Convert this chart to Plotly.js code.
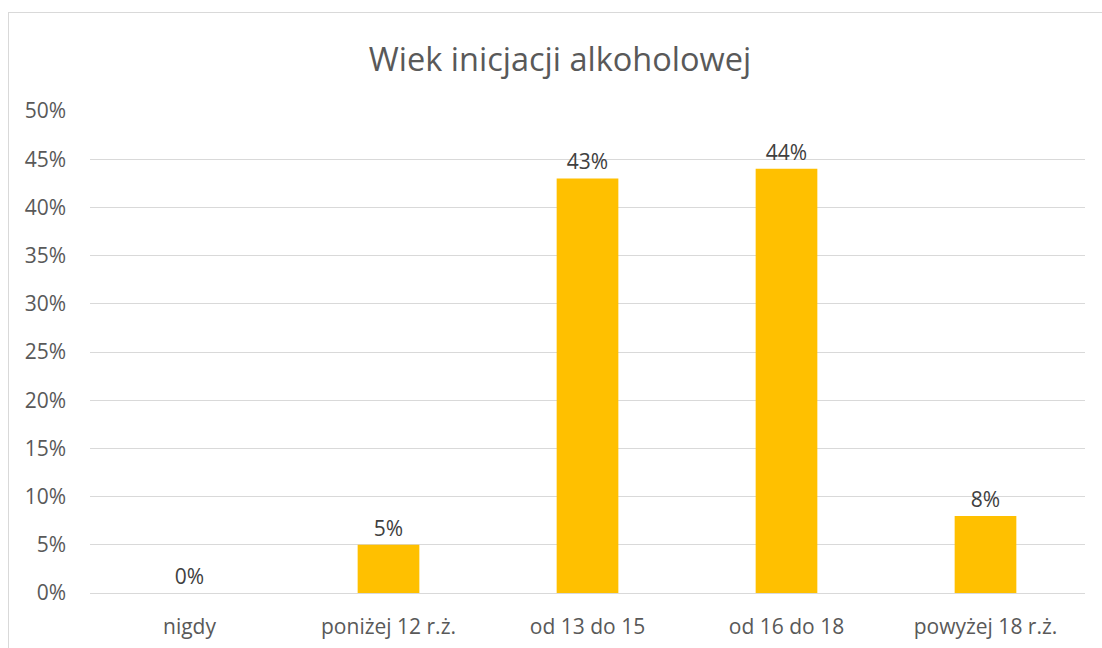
<!DOCTYPE html>
<html>
<head>
<meta charset="utf-8">
<script src="https://cdn.plot.ly/plotly-3.0.1.min.js"></script>
<style>
  html, body { margin: 0; padding: 0; background: #fff; overflow: hidden; }
  #frame { position: absolute; left: 8px; top: 12px; width: 1200px; height: 700px; border: 1px solid #d9d9d9; box-sizing: border-box; }
  #chart { position: absolute; left: 0; top: 0; width: 1102px; height: 648px; }
</style>
</head>
<body>
<div id="frame"></div>
<div id="chart"></div>
<script>
const categories = ["nigdy", "poniżej 12 r.ż.", "od 13 do 15", "od 16 do 18", "powyżej 18 r.ż."];
const values = [0, 0.05, 0.43, 0.44, 0.08];
const labels = ["0%", "5%", "43%", "44%", "8%"];
const yTicks = [0, 0.05, 0.10, 0.15, 0.20, 0.25, 0.30, 0.35, 0.40, 0.45, 0.50];
const yTickText = ["0%", "5%", "10%", "15%", "20%", "25%", "30%", "35%", "40%", "45%", "50%"];

const font = "'Open Sans', sans-serif";

Plotly.newPlot("chart", [{
  type: "bar",
  x: categories,
  y: values,
  text: labels,
  textposition: "outside",
  cliponaxis: false,
  textfont: { family: font, size: 21, color: "#404040" },
  marker: { color: "#FFC000" },
  hoverinfo: "none"
}], {
  width: 1102,
  height: 648,
  margin: { l: 90, r: 17, t: 111, b: 55 },
  paper_bgcolor: "rgba(0,0,0,0)",
  plot_bgcolor: "rgba(0,0,0,0)",
  bargap: 0.69,
  showlegend: false,
  title: {
    text: "Wiek inicjacji alkoholowej",
    font: { family: font, size: 32.5, color: "#595959" },
    x: 560 / 1102, xanchor: "center",
    y: 1 - 60 / 648, yanchor: "middle", yref: "container"
  },
  xaxis: {
    tickfont: { family: font, size: 21, color: "#595959" },
    showgrid: false, showline: false, zeroline: false,
    ticks: "", ticklabelstandoff: 19
  },
  yaxis: {
    range: [0, 0.5],
    tickvals: yTicks,
    ticktext: yTickText,
    tickfont: { family: font, size: 21, color: "#595959" },
    showgrid: true, gridcolor: "#d9d9d9", gridwidth: 1,
    zeroline: true, zerolinecolor: "#d9d9d9", zerolinewidth: 1,
    showline: false, ticks: "", ticklabelstandoff: 23
  }
}, { displayModeBar: false, staticPlot: true });
</script>
</body>
</html>
